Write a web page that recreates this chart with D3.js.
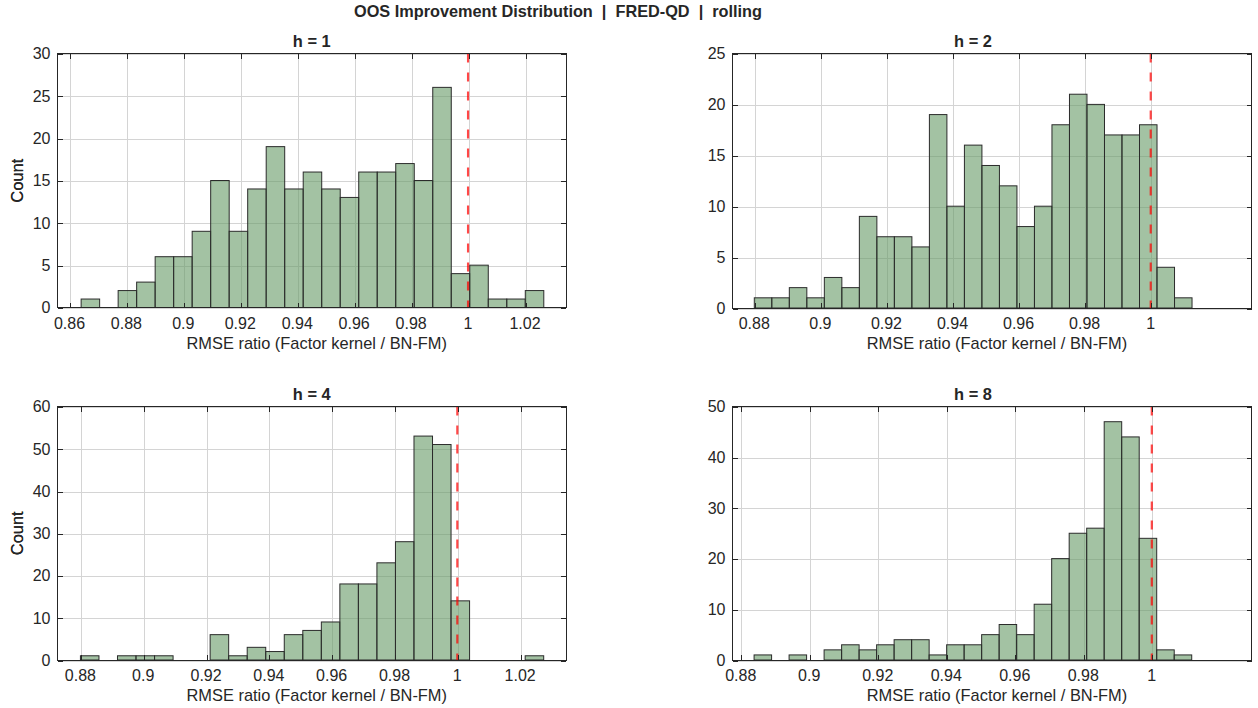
<!DOCTYPE html>
<html>
<head>
<meta charset="utf-8">
<script src="https://cdn.jsdelivr.net/npm/d3@7"></script>
<style>
  body { margin: 0; background: #fff; }
  text { font-family: "Liberation Sans", Arial, Helvetica, sans-serif; fill: #262626; }
  .grid line { stroke: #d4d4d4; stroke-width: 1; shape-rendering: crispEdges; }
  .tick-mark { stroke: #262626; stroke-width: 1; shape-rendering: crispEdges; }
</style>
</head>
<body>
<div id="chart"></div>
<script>
// histogram counts (25 bins per horizon)
var counts_h1 = [1, 0, 2, 3, 6, 6, 9, 15, 9, 14, 19, 14, 16, 14, 13, 16, 16, 17, 15, 26, 4, 5, 1, 1, 2];
var counts_h2 = [1, 1, 2, 1, 3, 2, 9, 7, 7, 6, 19, 10, 16, 14, 12, 8, 10, 18, 21, 20, 17, 17, 18, 4, 1];
var counts_h4 = [1, 0, 1, 1, 1, 0, 0, 6, 1, 3, 2, 6, 7, 9, 18, 18, 23, 28, 53, 51, 14, 0, 0, 0, 1];
var counts_h8 = [1, 0, 1, 0, 2, 3, 2, 3, 4, 4, 1, 3, 3, 5, 7, 5, 11, 20, 25, 26, 47, 44, 24, 2, 1];

// first bin edge and bin width for each horizon
var binStart = [0.8641, 0.88, 0.88, 0.8839];
var binWidth = [0.0065, 0.0053, 0.0059, 0.00511];

// axis limits
var xLimits = [[0.8558, 1.0344], [0.8734, 1.0305], [0.8727, 1.0346], [0.8776, 1.0291]];
var yLimits = [[0, 30], [0, 25], [0, 60], [0, 50]];

// tick labels
var xTicks = [
    [0.86, 0.88, 0.9, 0.92, 0.94, 0.96, 0.98, 1, 1.02],
    [0.88, 0.9, 0.92, 0.94, 0.96, 0.98, 1],
    [0.88, 0.9, 0.92, 0.94, 0.96, 0.98, 1, 1.02],
    [0.88, 0.9, 0.92, 0.94, 0.96, 0.98, 1]
];
var yTicks = [
    [0, 5, 10, 15, 20, 25, 30],
    [0, 5, 10, 15, 20, 25],
    [0, 10, 20, 30, 40, 50, 60],
    [0, 10, 20, 30, 40, 50]
];
var panelTitles = ["h = 1", "h = 2", "h = 4", "h = 8"];
var mainTitle = "OOS Improvement Distribution  |  FRED-QD  |  rolling";
var xLabel = "RMSE ratio (Factor kernel / BN-FM)";
var yLabel = "Count";
var refLine = 1;

var allCounts = [counts_h1, counts_h2, counts_h4, counts_h8];

var W = 1258, H = 708;
// axes boxes: left, top, width, height
var boxes = [
    { x: 57.5, y: 53.5, w: 508.5, h: 254, titleDx: 0 },
    { x: 732.5, y: 53.5, w: 519, h: 254.5, titleDx: -19 },
    { x: 57.5, y: 406.5, w: 508.5, h: 253.5, titleDx: 0 },
    { x: 732.5, y: 406.5, w: 519, h: 253.5, titleDx: -19 }
];

var svg = d3.select("#chart").append("svg")
    .attr("width", W)
    .attr("height", H);

svg.append("text")
    .attr("x", 558)
    .attr("y", 17)
    .attr("text-anchor", "middle")
    .style("font-size", "16.3px")
    .style("font-weight", "bold")
    .style("white-space", "pre")
    .attr("xml:space", "preserve")
    .text(mainTitle);

boxes.forEach(function (b, i) {
    drawPanel(b, i);
});

function drawPanel(b, i) {
    var g = svg.append("g").attr("transform", "translate(" + b.x + "," + b.y + ")");
    var x = d3.scaleLinear().domain(xLimits[i]).range([0, b.w]);
    var y = d3.scaleLinear().domain(yLimits[i]).range([b.h, 0]);
    var fmt = d3.format("~g");
    var tickLen = 5;

    // grid
    var grid = g.append("g").attr("class", "grid");
    grid.selectAll("line.gx").data(xTicks[i]).enter().append("line")
        .attr("x1", function (d) { return Math.round(x(d)) + 0.5; })
        .attr("x2", function (d) { return Math.round(x(d)) + 0.5; })
        .attr("y1", 0).attr("y2", b.h);
    grid.selectAll("line.gy").data(yTicks[i]).enter().append("line")
        .attr("y1", function (d) { return Math.round(y(d)) + 0.5; })
        .attr("y2", function (d) { return Math.round(y(d)) + 0.5; })
        .attr("x1", 0).attr("x2", b.w);

    // bars
    var bins = allCounts[i].map(function (c, k) {
        return { x0: binStart[i] + k * binWidth[i], x1: binStart[i] + (k + 1) * binWidth[i], count: c };
    });
    g.selectAll("rect.bar").data(bins).enter().append("rect")
        .attr("class", "bar")
        .attr("x", function (d) { return x(d.x0); })
        .attr("width", function (d) { return x(d.x1) - x(d.x0); })
        .attr("y", function (d) { return y(d.count); })
        .attr("height", function (d) { return y(0) - y(d.count); })
        .attr("fill", "#669966")
        .attr("fill-opacity", 0.6)
        .attr("stroke", "#2b2b2b")
        .attr("stroke-width", 1);

    // reference line at ratio = 1
    g.append("line")
        .attr("x1", x(refLine)).attr("x2", x(refLine))
        .attr("y1", 0).attr("y2", b.h)
        .attr("stroke", "#ff0000")
        .attr("stroke-opacity", 0.72)
        .attr("stroke-width", 2.2)
        .attr("stroke-dasharray", "9,10");

    // box
    g.append("rect")
        .attr("width", b.w).attr("height", b.h)
        .attr("fill", "none")
        .attr("stroke", "#262626")
        .attr("stroke-width", 1)
        .style("shape-rendering", "crispEdges");

    // tick marks, inward on all four sides
    xTicks[i].forEach(function (t) {
        var px = Math.round(x(t)) + 0.5;
        g.append("line").attr("class", "tick-mark")
            .attr("x1", px).attr("x2", px).attr("y1", b.h).attr("y2", b.h - tickLen);
        g.append("line").attr("class", "tick-mark")
            .attr("x1", px).attr("x2", px).attr("y1", 0).attr("y2", tickLen);
    });
    yTicks[i].forEach(function (t) {
        var py = Math.round(y(t)) + 0.5;
        g.append("line").attr("class", "tick-mark")
            .attr("x1", 0).attr("x2", tickLen).attr("y1", py).attr("y2", py);
        g.append("line").attr("class", "tick-mark")
            .attr("x1", b.w).attr("x2", b.w - tickLen).attr("y1", py).attr("y2", py);
    });

    // tick labels
    g.selectAll("text.xt").data(xTicks[i]).enter().append("text")
        .attr("x", function (d) { return x(d); })
        .attr("y", b.h + 21)
        .attr("text-anchor", "middle")
        .style("font-size", "16px")
        .text(fmt);
    g.selectAll("text.yt").data(yTicks[i]).enter().append("text")
        .attr("x", -7)
        .attr("y", function (d) { return y(d); })
        .attr("dy", "0.36em")
        .attr("text-anchor", "end")
        .style("font-size", "16px")
        .text(fmt);

    // labels and title
    g.append("text")
        .attr("x", b.w / 2 + 5)
        .attr("y", b.h + 41)
        .attr("text-anchor", "middle")
        .style("font-size", "16.4px")
        .text(xLabel);
    g.append("text")
        .attr("transform", "translate(" + (-b.x + 23) + "," + (b.h / 2) + ") rotate(-90)")
        .attr("text-anchor", "middle")
        .style("font-size", "16.4px")
        .text(yLabel);
    g.append("text")
        .attr("x", b.w / 2 + b.titleDx)
        .attr("y", -7)
        .attr("text-anchor", "middle")
        .style("font-size", "16.4px")
        .style("font-weight", "bold")
        .text(panelTitles[i]);
}
</script>
</body>
</html>
